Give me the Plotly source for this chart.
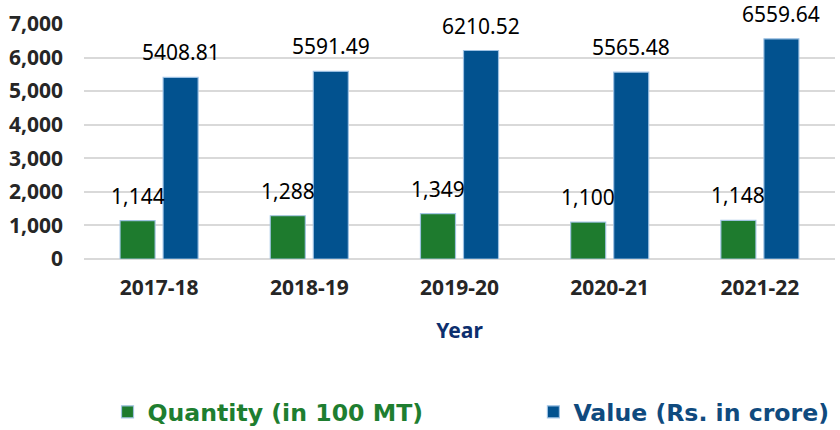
import plotly.graph_objects as go

years = ["2017-18", "2018-19", "2019-20", "2020-21", "2021-22"]
quantity = [1144, 1288, 1349, 1100, 1148]
value = [5408.81, 5591.49, 6210.52, 5565.48, 6559.64]
quantity_labels = ["1,144", "1,288", "1,349", "1,100", "1,148"]
value_labels = ["5408.81", "5591.49", "6210.52", "5565.48", "6559.64"]
y_ticks = [0, 1000, 2000, 3000, 4000, 5000, 6000, 7000]

GREEN = "#1E7B2E"
BLUE = "#02528F"
OUTLINE = "rgba(160,195,230,0.9)"

fig = go.Figure()
fig.add_trace(go.Bar(
    x=years, y=quantity,
    name="<span style='color:#1E7E30'>Quantity (in 100 MT)</span>",
    marker=dict(color=GREEN, line=dict(color=OUTLINE, width=1.2)),
    legend="legend",
))
fig.add_trace(go.Bar(
    x=years, y=value,
    name="<span style='color:#0F4A7E'>Value (Rs. in crore)</span>",
    marker=dict(color=BLUE, line=dict(color=OUTLINE, width=1.2)),
    legend="legend2",
))

for yr, q, ql, v, vl in zip(years, quantity, quantity_labels, value, value_labels):
    fig.add_annotation(x=yr, y=q, text=ql, xref="x", yref="y", showarrow=False,
                       xshift=-21.5, yshift=9, yanchor="bottom",
                       font=dict(family="Noto Sans", size=21, color="#000000"))
    fig.add_annotation(x=yr, y=v, text=vl, xref="x", yref="y", showarrow=False,
                       xshift=21.5, yshift=9, yanchor="bottom",
                       font=dict(family="Noto Sans", size=21, color="#000000"))

fig.update_layout(
    width=840, height=430,
    margin=dict(l=84, r=5, t=24, b=171, autoexpand=False),
    paper_bgcolor="white", plot_bgcolor="white",
    barmode="group", bargap=0.427, bargroupgap=0.186,
    showlegend=True,
    legend=dict(orientation="h", xref="container", yref="container",
                x=0.128, xanchor="left", y=0.042, yanchor="middle",
                font=dict(family="DejaVu Sans", size=23.6, weight="bold"),
                bgcolor="rgba(0,0,0,0)"),
    legend2=dict(orientation="h", xref="container", yref="container",
                 x=0.635, xanchor="left", y=0.042, yanchor="middle",
                 font=dict(family="DejaVu Sans", size=23.6, weight="bold"),
                 bgcolor="rgba(0,0,0,0)"),
    xaxis=dict(
        type="category", automargin=False,
        tickfont=dict(family="Noto Sans", size=21, color="#262626", weight="bold"),
        ticks="outside", ticklen=10, tickcolor="rgba(0,0,0,0)",
        showgrid=False, showline=False,
        title=dict(text="Year", standoff=23,
                   font=dict(family="Noto Sans", size=21, color="#0D2F6E", weight="bold")),
    ),
    yaxis=dict(
        range=[0, 7000], tickvals=y_ticks, tickformat=",d", automargin=False,
        tickfont=dict(family="Noto Sans", size=21, color="#262626", weight="bold"),
        ticklabelstandoff=20,
        showgrid=True, gridcolor="#D9D9D9", gridwidth=1.5,
        zeroline=True, zerolinecolor="#D9D9D9", zerolinewidth=1.5,
        showline=False,
    ),
)

fig.write_html("out.html", config={"displayModeBar": False},
               post_script="document.body.style.margin='0';")
